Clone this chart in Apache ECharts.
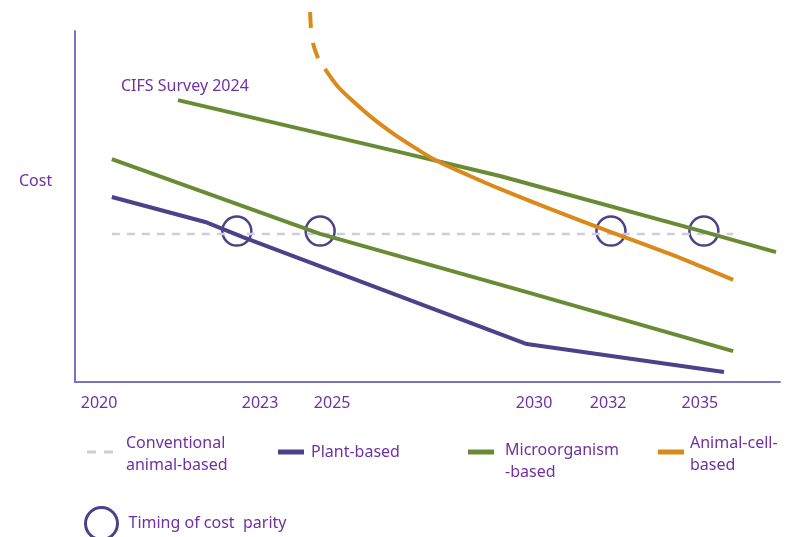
<!DOCTYPE html>
<html>
<head>
<meta charset="utf-8">
<script src="https://cdn.jsdelivr.net/npm/echarts@6/dist/echarts.min.js"></script>
<style>
html,body{margin:0;padding:0;background:#fff;}
#chart{width:792px;height:537px;}
</style>
</head>
<body>
<div id="chart"></div>
<script>
// ---- data (x = timeline position in years, y = relative cost index) ----
const xTickLabels = ['2020', '2023', '2025', '2030', '2032', '2035'];
const xTickPositions = [2020.0, 2024.02, 2025.82, 2030.86, 2032.71, 2035.0];

const conventional = [[2020.32, 42.2], [2035.83, 42.2]];
const plantBased = [[2020.32, 52.7], [2022.65, 45.6], [2023.59, 41.3], [2030.68, 10.8], [2035.6, 2.85]];
const microBased = [[2020.32, 63.5], [2025.52, 42.2], [2030.68, 25.6], [2035.83, 8.8]];
const microSurvey2024 = [[2021.97, 80.3], [2027.51, 65.5], [2030.01, 58.7], [2035.13, 42.7], [2036.9, 37.0]];
const animalCellEarly = [[2025.27, 105.4], [2025.29, 100.85], [2025.34, 96.6], [2025.49, 91.7], [2025.64, 89.2]];
const animalCell = [[2025.64, 89.2], [2025.97, 84.05], [2026.39, 79.5], [2026.89, 74.6], [2027.39, 70.4],
  [2027.89, 66.7], [2028.39, 63.25], [2029.26, 58.7], [2030.01, 55.0], [2031.26, 49.3],
  [2032.78, 42.7], [2034.25, 36.5], [2035.83, 29.1]];
const costParity = [[2023.44, 43.0], [2025.52, 43.0], [2032.78, 43.0], [2035.10, 43.0]];

const names = {
  conv: 'Conventional animal-based',
  plant: 'Plant-based',
  micro: 'Microorganism-based',
  cell: 'Animal-cell-based',
  parity: 'Timing of cost  parity'
};
const legendLines = {
  'Conventional animal-based': ['Conventional', 'animal-based'],
  'Plant-based': ['Plant-based'],
  'Microorganism-based': ['Microorganism', '-based'],
  'Animal-cell-based': ['Animal-cell-', 'based'],
  'Timing of cost  parity': ['Timing of cost  parity']
};

const TXT = '#7030A0';
const AXIS = '#7F6FC0';
const PURPLE = '#4E4089';
const GREEN = '#6A8B35';
const ORANGE = '#D98A1A';
const GREY = '#CFCBE0';
const FONT = 'Noto Sans';

function legendBox(name, left, top, lift, padLeft, opts) {
  return Object.assign({
    data: [name],
    left: left, top: top,
    orient: 'horizontal',
    padding: 0,
    itemWidth: 26, itemHeight: 5,
    icon: 'rect',
    itemStyle: { borderWidth: 0, opacity: 1 },
    selectedMode: false,
    formatter: n => (lift ? '{s|\u00a0}\n' : '') + legendLines[n].map(l => '{t|' + l + '}').join('\n'),
    textStyle: {
      color: TXT, fontSize: 16, fontFamily: FONT, lineHeight: 22,
      padding: [0, 0, 0, padLeft],
      rich: {
        s: { fontSize: 2, lineHeight: lift || 1 },
        t: { color: TXT, fontSize: 16, fontFamily: FONT, lineHeight: 22 }
      }
    }
  }, opts || {});
}

const chart = echarts.init(document.getElementById('chart'));
chart.setOption({
  animation: false,
  backgroundColor: '#fff',
  textStyle: { fontFamily: FONT },
  title: [
    { text: 'Cost', left: 19, top: 173, padding: 0,
      textStyle: { color: TXT, fontSize: 16, fontWeight: 'normal', fontFamily: FONT } },
    { text: 'CIFS Survey 2024', left: 121, top: 78, padding: 0,
      textStyle: { color: TXT, fontSize: 16, fontWeight: 'normal', fontFamily: FONT } }
  ],
  grid: { left: 75, right: 12, top: 31, bottom: 155 },
  xAxis: {
    type: 'value', min: 2019.4, max: 2037.0,
    axisLine: { show: true, lineStyle: { color: AXIS, width: 2 } },
    axisTick: { show: false },
    splitLine: { show: false },
    axisLabel: {
      customValues: xTickPositions,
      formatter: v => {
        const i = xTickPositions.findIndex(p => Math.abs(p - v) < 1e-6);
        return i >= 0 ? xTickLabels[i] : '';
      },
      color: TXT, fontSize: 16, fontFamily: FONT, margin: 13
    }
  },
  yAxis: {
    type: 'value', min: 0, max: 100,
    axisLine: { show: true, onZero: false, lineStyle: { color: AXIS, width: 2 } },
    axisTick: { show: false },
    axisLabel: { show: false },
    splitLine: { show: false }
  },
  legend: [
    legendBox(names.conv, 87, 428, 4, 8, { icon: 'path://M0,0H9V3H0Z M17,0H26V3H17Z', itemHeight: 3 }),
    legendBox(names.plant, 278, 441, 0, 2),
    legendBox(names.micro, 468, 421, 18, 6),
    legendBox(names.cell, 658, 428, 4, 1),
    legendBox(names.parity, 84, 506, 0, 6, { icon: 'circle', itemWidth: 32, itemHeight: 32, itemStyle: { borderWidth: 3, borderColor: PURPLE, color: 'rgba(255,255,255,0)', opacity: 1 } })
  ],
  series: [
    { name: names.conv, type: 'line', data: conventional, symbol: 'none',
      lineStyle: { color: GREY, width: 2.5, type: [8, 7] }, itemStyle: { color: GREY }, silent: true },
    { name: names.plant, type: 'line', data: plantBased, symbol: 'none',
      lineStyle: { color: PURPLE, width: 4 }, itemStyle: { color: PURPLE }, silent: true },
    { name: names.micro, type: 'line', data: microBased, symbol: 'none',
      lineStyle: { color: GREEN, width: 4 }, itemStyle: { color: GREEN }, silent: true },
    { name: names.micro, type: 'line', data: microSurvey2024, symbol: 'none',
      lineStyle: { color: GREEN, width: 4 }, itemStyle: { color: GREEN }, silent: true },
    { name: names.cell, type: 'line', data: animalCellEarly, symbol: 'none', clip: false, smooth: 0.3,
      lineStyle: { color: ORANGE, width: 4, type: [16, 15] }, itemStyle: { color: ORANGE }, silent: true },
    { name: names.cell, type: 'line', data: animalCell, symbol: 'none', clip: false, smooth: 0.3,
      lineStyle: { color: ORANGE, width: 4 }, itemStyle: { color: ORANGE }, silent: true },
    { name: names.parity, type: 'scatter', data: costParity, symbol: 'circle', symbolSize: 29,
      itemStyle: { color: 'rgba(255,255,255,0)', borderColor: PURPLE, borderWidth: 2.5, opacity: 1 }, silent: true }
  ]
});
</script>
</body>
</html>
